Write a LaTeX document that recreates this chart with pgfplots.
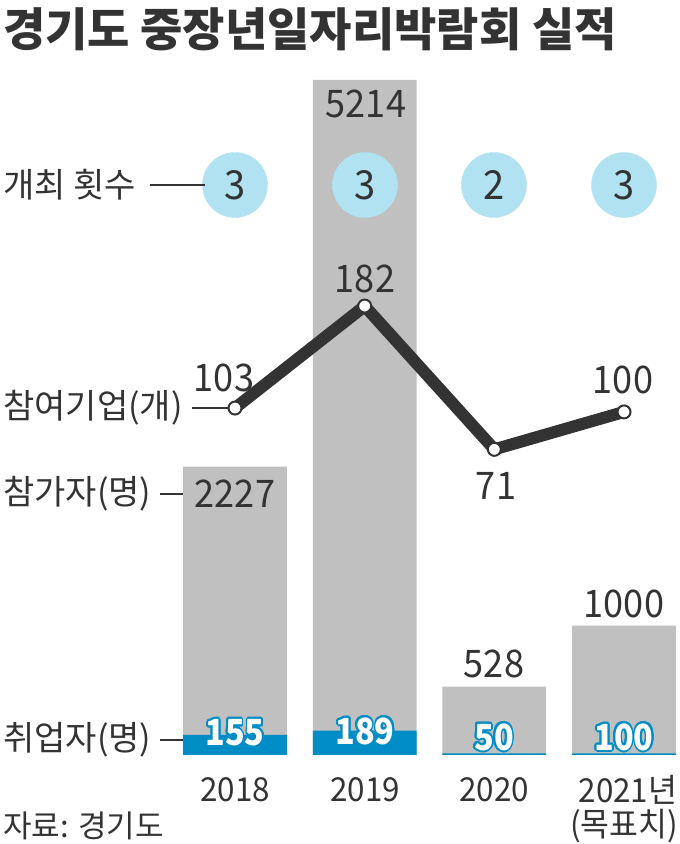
\documentclass[border=0pt]{standalone}
\usepackage{pgfplots}
\pgfplotsset{compat=1.18}
\usepackage{fontspec}
\setmainfont{Noto Sans CJK KR}
\usepackage{contour}
\contourlength{2bp}
\definecolor{barg}{RGB}{192,192,192}
\definecolor{barb}{RGB}{0,140,196}
\definecolor{circ}{RGB}{176,226,242}
\definecolor{txt}{RGB}{51,51,51}
\newcommand{\fs}[1]{\fontsize{#1}{#1}\selectfont}
\begin{document}
\begin{tikzpicture}
\pgfplotsset{every axis/.append style={scale only axis, width=680bp, height=844bp, hide axis, clip=false, at={(0,0)}, anchor=south west}}
% bars: participants and employed
\begin{axis}[xmin=-1.8123, xmax=3.4318, ymin=-687.5, ymax=5832]
\addplot[ybar, bar width=0.8, fill=barg, draw=none] coordinates {(0,2227)(1,5214)(2,528)(3,1000)};
\addplot[ybar, bar width=0.8, fill=barb, draw=none] coordinates {(0,155)(1,189)(2,12)(3,12)};
\end{axis}
% events count (circles), annotation axis in pixel units (y downward)
\begin{axis}[xmin=0, xmax=680, ymin=0, ymax=844, y dir=reverse]
\addplot[only marks, mark=*, mark size=32.5bp, fill=circ, draw=none, color=circ,
  nodes near coords, point meta=explicit symbolic,
  every node near coord/.style={anchor=center, text=txt, font=\fs{40bp}, xscale=0.95}]
  coordinates {(235,185)[3] (365,185)[3] (494,185)[2] (624,185)[3]};
\end{axis}
% line: participating companies
\begin{axis}[xmin=-1.8123, xmax=3.4318, ymin=-234.7, ymax=419.1]
\addplot[line width=12bp, color=txt, line join=round, mark=*, mark size=6.5bp,
  mark options={fill=white, draw=txt, line width=2bp}]
  coordinates {(0,103)(1,182)(2,71)(3,100)};
\end{axis}
% text
\begin{axis}[xmin=0, xmax=680, ymin=0, ymax=844, y dir=reverse]
\node[anchor=west, text=txt, font=\fs{46bp}\bfseries, inner sep=0pt] at (axis cs:3,29) {경기도 중장년일자리박람회 실적};
\node[anchor=west, text=txt, font=\fs{34bp}, inner sep=0pt] at (axis cs:3,185) {개최 횟수};
\node[anchor=west, text=txt, font=\fs{34bp}, inner sep=0pt] at (axis cs:3,408) {참여기업(개)};
\node[anchor=west, text=txt, font=\fs{34bp}, inner sep=0pt] at (axis cs:3,494) {참가자(명)};
\node[anchor=west, text=txt, font=\fs{34bp}, inner sep=0pt] at (axis cs:3,740) {취업자(명)};
\node[anchor=west, text=txt, font=\fs{31bp}, inner sep=0pt] at (axis cs:3,826) {자료: 경기도};
\draw[txt, line width=1.5bp] (axis cs:150,185) -- (axis cs:205,185);
\draw[txt, line width=1.5bp] (axis cs:192,408) -- (axis cs:229,408);
\draw[txt, line width=1.5bp] (axis cs:160,494) -- (axis cs:183,494);
\draw[txt, line width=1.5bp] (axis cs:160,740) -- (axis cs:183,740);
\begin{scope}[every node/.style={text=txt, font=\fs{38bp}, inner sep=0pt, anchor=center, xscale=0.95}]
\node at (axis cs:366,104) {5214};
\node at (axis cs:235,494) {2227};
\node at (axis cs:494,664) {528};
\node at (axis cs:624,604) {1000};
\node at (axis cs:224,378) {103};
\node at (axis cs:365,279) {182};
\node at (axis cs:496,486) {71};
\node at (axis cs:623,380) {100};
\end{scope}
\begin{scope}[every node/.style={text=white, font=\fs{36bp}\bfseries, inner sep=0pt, anchor=center, xscale=0.9}]
\node at (axis cs:235,734) {\contour{barb}{155}};
\node at (axis cs:365,732) {\contour{barb}{189}};
\node at (axis cs:494,738) {\contour{barb}{50}};
\node at (axis cs:624,738) {\contour{barb}{100}};
\end{scope}
\begin{scope}[every node/.style={text=txt, font=\fs{33bp}, inner sep=0pt, anchor=center, xscale=0.95}]
\node at (axis cs:235,790) {2018};
\node at (axis cs:365,790) {2019};
\node at (axis cs:494,790) {2020};
\node at (axis cs:628,790) {2021년};
\node at (axis cs:624,826) {(목표치)};
\end{scope}
\end{axis}
\pgfresetboundingbox
\path (0,0) rectangle (680bp,844bp);
\end{tikzpicture}
\end{document}
